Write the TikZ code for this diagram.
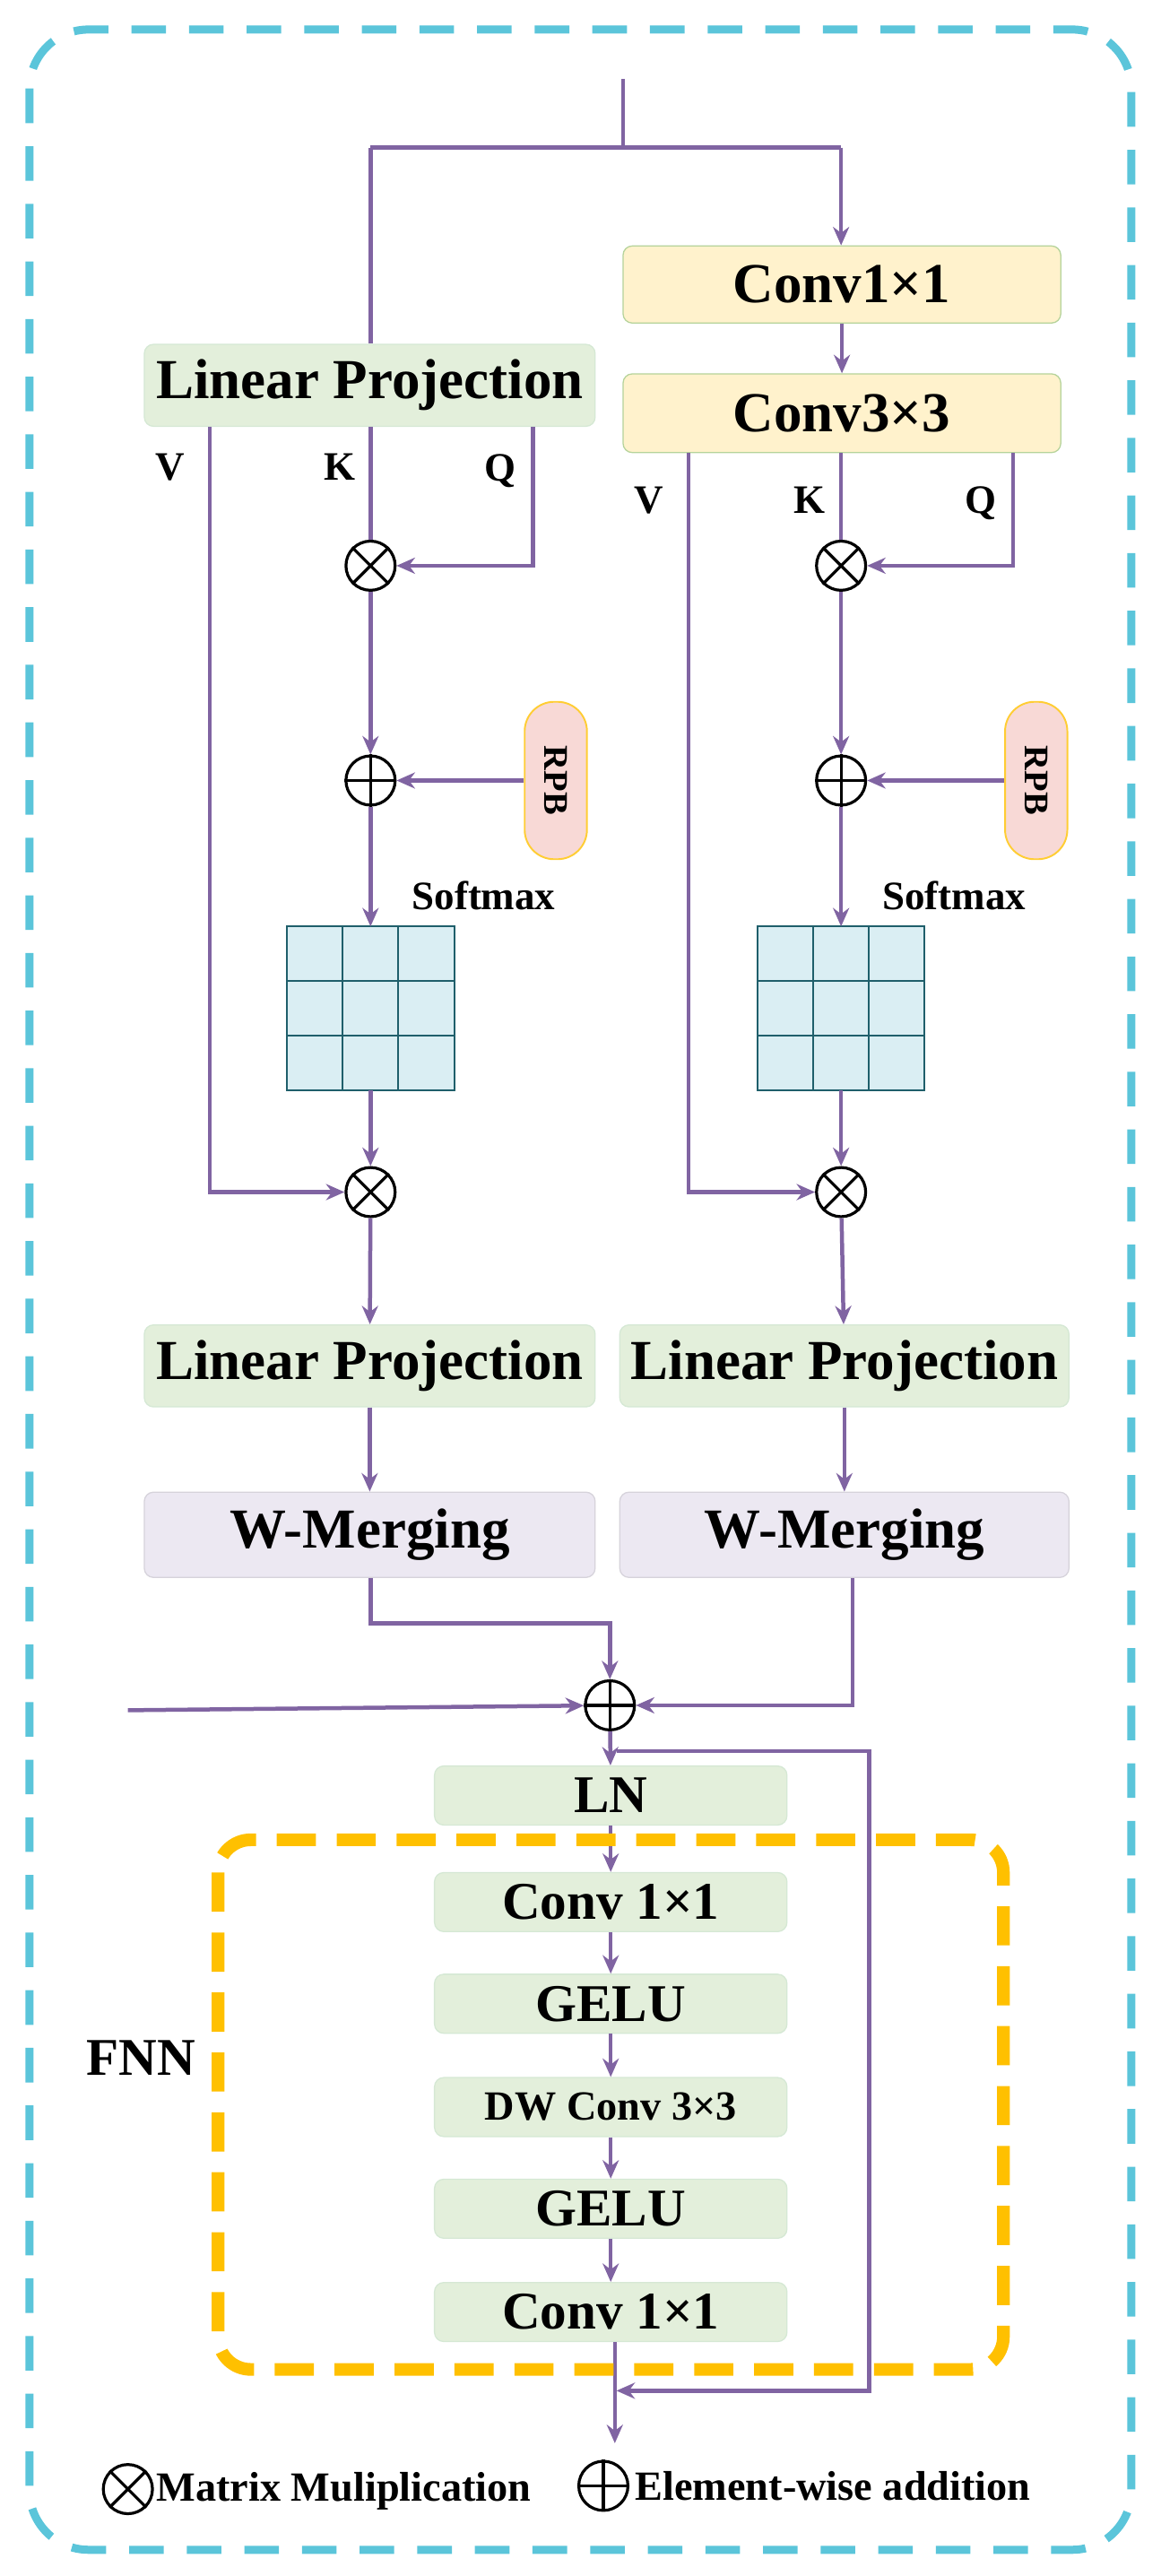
\documentclass[tikz,border=0pt]{standalone}
\usepackage{fontspec}
\setmainfont{Liberation Serif}
\usetikzlibrary{arrows.meta,positioning}
\definecolor{pur}{HTML}{8064A2}
\definecolor{cy}{HTML}{5BC5DA}
\definecolor{gr}{HTML}{E3EFDB}
\definecolor{grb}{HTML}{D5E8D4}
\definecolor{ye}{HTML}{FFF2CC}
\definecolor{yeb}{HTML}{B5D39A}
\definecolor{lav}{HTML}{ECE8F2}
\definecolor{pk}{HTML}{F8D9D6}
\definecolor{org}{HTML}{FFC000}
\definecolor{cell}{HTML}{DAEEF3}
\definecolor{cellb}{HTML}{1F5F6B}
\begin{document}
\begin{tikzpicture}[x=0.05cm,y=-0.05cm,
 box/.style={draw=grb,fill=gr,rounded corners=8pt,line width=1pt,font=\bfseries\fontsize{49}{52}\selectfont,inner sep=0pt},
 wm/.style={box,fill=lav,draw=lav!80!gray},
 cv/.style={box,fill=ye,draw=yeb},
 lab/.style={font=\bfseries\fontsize{35}{38}\selectfont},
 ln/.style={draw=pur,line width=3.5pt},
 ar/.style={ln,-{Stealth[length=16pt,width=14pt]}},
 op/.style={circle,draw=black,line width=2.5pt,minimum size=1.5cm,inner sep=0pt},
 rpb/.style={draw=org!80,fill=pk,rounded corners=0.9cm,minimum width=1.9cm,minimum height=4.8cm,line width=1.5pt,font=\bfseries\fontsize{30}{32}\selectfont,inner sep=0pt}]
\useasboundingbox (0,0) rectangle (708,1571);
\draw[cy,line width=7pt,dash pattern=on 30pt off 20pt,rounded corners=1.8cm] (18,18) rectangle (690,1555);
\newcommand\mymul[2]{\node[op] (#1) at (#2) {}; \draw[line width=2.5pt] (#1.north west)--(#1.south east) (#1.north east)--(#1.south west);}
\newcommand\myadd[2]{\node[op] (#1) at (#2) {}; \draw[line width=2.5pt] (#1.north)--(#1.south) (#1.east)--(#1.west);}
\node[box,minimum width=13.75cm,minimum height=2.5cm] (lp1) at (225.5,235) {Linear Projection};
\node[cv,minimum width=13.35cm,minimum height=2.35cm] (c1) at (513.5,173.5) {Conv1×1};
\node[cv,minimum width=13.35cm,minimum height=2.4cm] (c3) at (513.5,252) {Conv3×3};
\coordinate (top) at (380,48);
\draw[ln] (top)--(380,90);
\draw[ln] (226,90)--(513,90);
\draw[ln] (226,90)--(lp1.north-|226,0);
\draw[ar] (513,90)--(c1.north-|513,0);
\draw[ar] (c1)--(c3);
\foreach \s/\xo/\xv/\xq/\yl/\src in {L/226/128/325/285/lp1,R/513/420/618/305/c3}{
 \mymul{m1\s}{\xo,345}
 \myadd{a\s}{\xo,476}
 \mymul{m2\s}{\xo,727}
 \node[rpb] (r\s) at (\xq+14,476) {\rotatebox{-90}{RPB}};
 \draw[ln] (\src.south-|\xo,0)--(m1\s);
 \draw[ar] (\src.south-|\xq,0)--(\xq,345)--(m1\s);
 \draw[ar] (m1\s)--(a\s);
 \draw[ar] (r\s)--(a\s);
 \node[lab] at (\xv-24,\yl) {V};
 \node[lab] at (\xo-19,\yl) {K};
 \node[lab] at (\xq-20,\yl+2) {Q};
 \node[lab] at (\xo+69,546) {Softmax};
 \foreach \i in {0,1,2} \foreach \j in {0,1,2}
  \draw[cellb,fill=cell,line width=1.5pt] (\xo-51+34*\i,565+33.3*\j) rectangle ++(34,33.3);
 \coordinate (g\s) at (\xo,565);
 \draw[ar] (a\s)--(g\s);
 \draw[ar] (\xo,665)--(m2\s);
 \draw[ar] (\src.south-|\xv,0)--(\xv,727)--(m2\s);
}
\node[box,minimum width=13.75cm,minimum height=2.5cm] (lp2) at (225.5,833) {Linear Projection};
\node[box,minimum width=13.7cm,minimum height=2.5cm] (lp3) at (515,833) {Linear Projection};
\node[wm,minimum width=13.75cm,minimum height=2.6cm] (w1) at (225.5,936) {W-Merging};
\node[wm,minimum width=13.7cm,minimum height=2.6cm] (w2) at (515,936) {W-Merging};
\draw[ar] (m2L)--(lp2); \draw[ar] (m2R)--(lp3);
\draw[ar] (lp2)--(w1); \draw[ar] (lp3)--(w2);
\myadd{S}{372,1040}
\draw[ar] (w1.south-|226,0)--(226,990)--(372,990)--(S);
\draw[ar] (w2.south-|520,0)--(520,1040)--(S);
\coordinate (in) at (78,1043);
\draw[ar] (in)--(S);
\tikzset{fb/.style={box,minimum width=10.75cm,minimum height=1.8cm,font=\bfseries\fontsize{46}{50}\selectfont}}
\node[fb] (LN) at (372.5,1095) {LN};
\node[fb] (f1) at (372.5,1160) {Conv 1×1};
\node[fb] (f2) at (372.5,1222) {GELU};
\node[fb,font=\bfseries\fontsize{36}{40}\selectfont] (f3) at (372.5,1285) {DW Conv 3×3};
\node[fb] (f4) at (372.5,1347) {GELU};
\node[fb] (f5) at (372.5,1410) {Conv 1×1};
\draw[ar] (S)--(LN);
\draw[ar] (LN)--(f1); \draw[ar] (f1)--(f2); \draw[ar] (f2)--(f3); \draw[ar] (f3)--(f4); \draw[ar] (f4)--(f5);
\draw[ar] (376,1068)--(530,1068)--(530,1458)--(376,1458);
\coordinate (out) at (375,1490);
\draw[ar] (f5.south-|375,0)--(out);
\draw[org,line width=11pt,dash pattern=on 34pt off 18pt,rounded corners=1cm] (133,1122) rectangle (612,1445);
\node[font=\bfseries\fontsize{46}{50}\selectfont] (fnn) at (86,1255) {FNN};
\mymul{lg1}{78,1518}
\node[font=\bfseries\fontsize{36}{40}\selectfont,anchor=west] at (93,1519) {Matrix Muliplication};
\myadd{lg2}{368,1516}
\node[font=\bfseries\fontsize{36}{40}\selectfont,anchor=west] at (385,1516) {Element-wise addition};
\end{tikzpicture}
\end{document}
